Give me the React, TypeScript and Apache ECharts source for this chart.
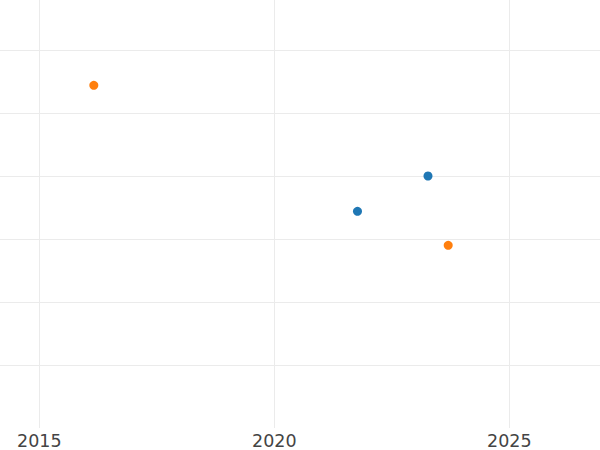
import React, { useEffect, useRef } from "react";
import * as echarts from "echarts";

const blueYears = [2021.77, 2023.27];
const blueValues = [3.44, 4.0];
const orangeYears = [2016.16, 2023.7];
const orangeValues = [5.44, 2.9];

export default function App() {
  const ref = useRef<HTMLDivElement>(null);
  useEffect(() => {
    if (!ref.current) return;
    const chart = echarts.init(ref.current, null, { renderer: "svg" });
    const pxPerYear = 47;
    const xAt0 = 2015 - 39.3 / pxPerYear;
    const xMin = 2010;
    const left = -(xAt0 - xMin) * pxPerYear;
    const xMax = xAt0 + 600 / pxPerYear;
    chart.setOption({
      animation: false,
      backgroundColor: "#ffffff",
      grid: {
        left: left,
        right: 0,
        top: 0,
        bottom: 22,
        containLabel: false,
        outerBoundsMode: "none",
      },
      xAxis: {
        type: "value",
        min: xMin,
        max: xMax,
        interval: 5,
        axisLine: { show: false },
        axisTick: { show: false },
        axisLabel: {
          color: "#444444",
          fontSize: 17.5,
          fontFamily: "DejaVu Sans",
          margin: 4,
          showMinLabel: false,
          showMaxLabel: false,
          formatter: (v: number) => (Math.abs(v % 5) < 1e-6 ? String(v) : ""),
        },
        splitLine: { show: true, showMaxLine: false, lineStyle: { color: "#ebebeb", width: 1 } },
      },
      yAxis: {
        type: "value",
        min: 0,
        max: 428 / 63,
        interval: 1,
        axisLine: { show: false },
        axisTick: { show: false },
        axisLabel: { show: false },
        splitLine: {
          show: true,
          showMinLine: false,
          showMaxLine: false,
          lineStyle: { color: "#ebebeb", width: 1 },
        },
      },
      series: [
        {
          type: "scatter",
          data: blueYears.map((x, i) => [x, blueValues[i]]),
          symbolSize: 9,
          itemStyle: { color: "#1f77b4", opacity: 1 },
        },
        {
          type: "scatter",
          data: orangeYears.map((x, i) => [x, orangeValues[i]]),
          symbolSize: 9,
          itemStyle: { color: "#ff7f0e", opacity: 1 },
        },
      ],
    });
    return () => chart.dispose();
  }, []);
  return (
    <div
      ref={ref}
      style={{ position: "fixed", left: 0, top: 0, width: 600, height: 450 }}
    />
  );
}
